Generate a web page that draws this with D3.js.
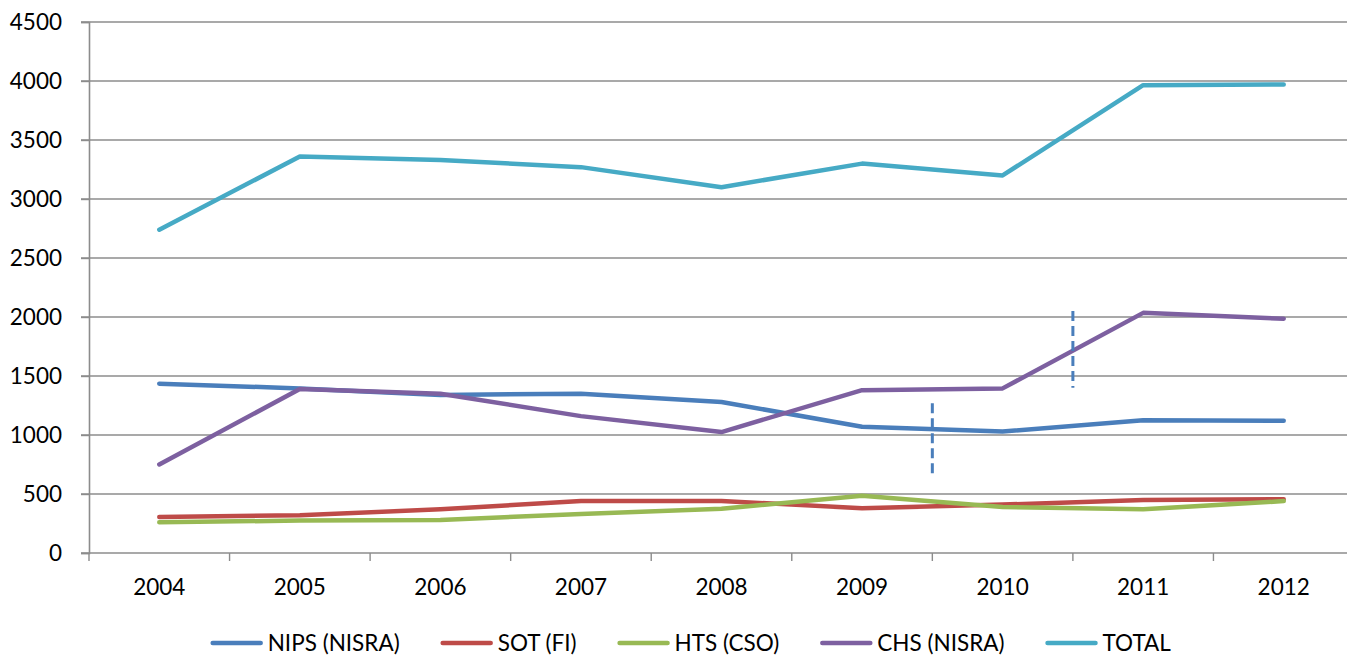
<!DOCTYPE html>
<html>
<head>
<meta charset="utf-8">
<script src="https://cdn.jsdelivr.net/npm/d3@7"></script>
<style>
  html, body { margin: 0; padding: 0; background: #ffffff; }
  svg { display: block; }
  text { font-family: Lato, "Liberation Sans", sans-serif; fill: #000; }
</style>
</head>
<body>
<svg id="chart" width="1347" height="655"></svg>
<script>
// Years on the category axis
const years = ["2004", "2005", "2006", "2007", "2008", "2009", "2010", "2011", "2012"];

// Series values per year
const nips  = [1435, 1395, 1340, 1350, 1280, 1070, 1030, 1125, 1120];
const sot   = [305, 320, 370, 440, 440, 380, 410, 450, 455];
const hts   = [260, 275, 280, 330, 375, 485, 390, 370, 440];
const chs   = [750, 1390, 1350, 1160, 1025, 1380, 1395, 2035, 1985];
const total = [2740, 3360, 3330, 3270, 3100, 3300, 3200, 3965, 3970];

const seriesNames = ["NIPS (NISRA)", "SOT (FI)", "HTS (CSO)", "CHS (NISRA)", "TOTAL"];
const seriesColors = ["#4a7ebb", "#be4b48", "#98b954", "#7d60a0", "#46aac5"];

// Value-axis ticks
const yTicks = [0, 500, 1000, 1500, 2000, 2500, 3000, 3500, 4000, 4500];

// Dashed break markers: position between two years, and value extent
const breakAfter = ["2009", "2010"];
const breakFrom  = [640, 1400];
const breakTo    = [1270, 2050];

const series = [nips, sot, hts, chs, total];

const svg = d3.select("#chart");
const plotLeft = 89, plotRight = 1354, plotTop = 22, plotBottom = 553;

const x = d3.scaleBand().domain(years).range([plotLeft, plotRight]).paddingInner(0).paddingOuter(0);
const y = d3.scaleLinear().domain([0, 4500]).range([plotBottom, plotTop]);
const cx = d => x(d) + x.bandwidth() / 2;

// Horizontal gridlines
svg.append("g")
  .selectAll("line")
  .data(yTicks.filter(t => t > 0))
  .join("line")
  .attr("x1", plotLeft - 8).attr("x2", plotRight)
  .attr("y1", d => y(d)).attr("y2", d => y(d))
  .attr("stroke", "#8c8c8c").attr("stroke-width", 1.4);

// Value axis
const yAxis = svg.append("g")
  .attr("transform", `translate(${plotLeft},0)`)
  .call(d3.axisLeft(y).tickValues(yTicks).tickSize(8).tickPadding(19).tickFormat(d3.format("d")));
yAxis.select(".domain").attr("stroke", "#8c8c8c").attr("stroke-width", 1.6);
yAxis.selectAll(".tick line").attr("stroke", "#8c8c8c").attr("stroke-width", 1.4);
yAxis.selectAll(".tick text").attr("font-size", 22.5).attr("font-family", "Lato, sans-serif").attr("fill", "#000");

// Category axis: ticks on band boundaries, labels centred in bands
const xAxisG = svg.append("g").attr("transform", `translate(0,${plotBottom})`);
xAxisG.append("line")
  .attr("x1", plotLeft - 8).attr("x2", plotRight)
  .attr("stroke", "#8c8c8c").attr("stroke-width", 1.6);
xAxisG.selectAll("line.tk")
  .data(years.concat(["end"]))
  .join("line").attr("class", "tk")
  .attr("x1", (d, i) => i < years.length ? x(d) : plotRight)
  .attr("x2", (d, i) => i < years.length ? x(d) : plotRight)
  .attr("y1", 0).attr("y2", 8)
  .attr("stroke", "#8c8c8c").attr("stroke-width", 1.4);
xAxisG.selectAll("text")
  .data(years)
  .join("text")
  .attr("x", d => cx(d))
  .attr("y", 42)
  .attr("text-anchor", "middle")
  .attr("font-size", 22.5)
  .text(d => d);

// Series lines
const line = d3.line().x((d, i) => cx(years[i])).y(d => y(d));
svg.append("g")
  .selectAll("path")
  .data(series)
  .join("path")
  .attr("d", d => line(d))
  .attr("fill", "none")
  .attr("stroke", (d, i) => seriesColors[i])
  .attr("stroke-width", 4.5)
  .attr("stroke-linecap", "round")
  .attr("stroke-linejoin", "round");

// Dashed break markers
svg.append("g")
  .selectAll("line")
  .data(breakAfter)
  .join("line")
  .attr("x1", d => x(d) + x.bandwidth())
  .attr("x2", d => x(d) + x.bandwidth())
  .attr("y1", (d, i) => y(breakTo[i]))
  .attr("y2", (d, i) => y(breakFrom[i]))
  .attr("stroke", "#4a7ebb")
  .attr("stroke-width", 3)
  .attr("stroke-dasharray", "10,5");

// Legend
const legend = svg.append("g").attr("transform", "translate(0,643)");
const items = legend.selectAll("g")
  .data(seriesNames)
  .join("g");
items.append("line")
  .attr("x1", 0).attr("x2", 48)
  .attr("stroke", (d, i) => seriesColors[i])
  .attr("stroke-width", 4.5)
  .attr("stroke-linecap", "round");
items.append("text")
  .attr("x", 55).attr("y", 8)
  .attr("font-size", 22.5)
  .text(d => d);
let widths = [];
items.each(function () { widths.push(this.getBBox().width); });
const gap = 43;
const totalW = d3.sum(widths) + gap * (widths.length - 1);
let pos = 692 - totalW / 2;
items.attr("transform", (d, i) => {
  const t = `translate(${pos},0)`;
  pos += widths[i] + gap;
  return t;
});
</script>
</body>
</html>
